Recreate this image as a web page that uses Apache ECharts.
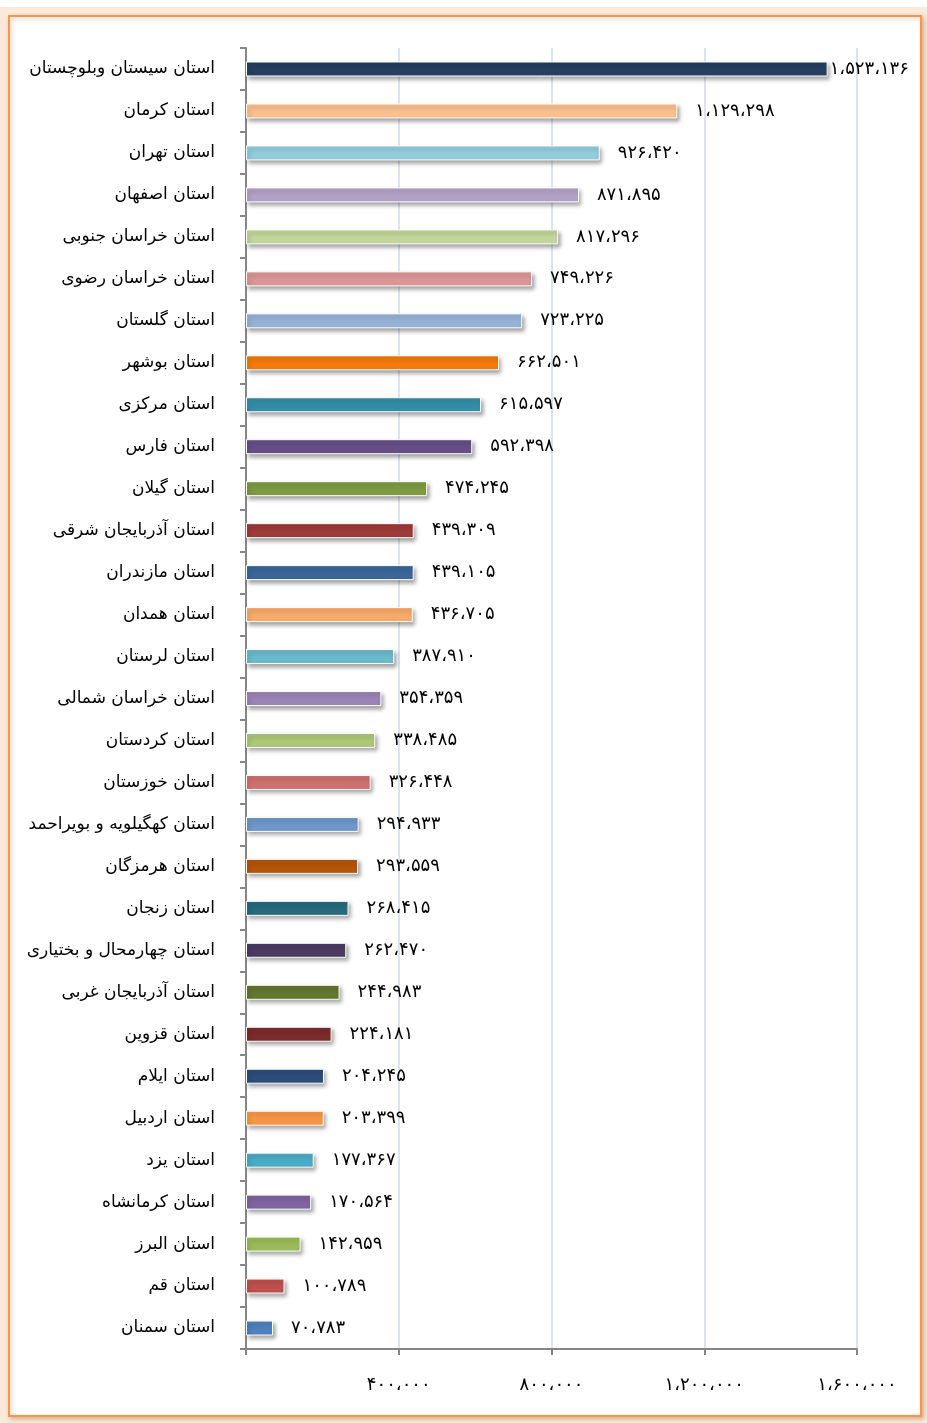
<!DOCTYPE html>
<html lang="fa">
<head>
<meta charset="utf-8">
<title>جمعیت استان‌ها</title>
<script src="https://cdn.jsdelivr.net/npm/echarts@6/dist/echarts.min.js"></script>
<style>
  html, body { margin: 0; padding: 0; background: #ffffff; }
  #chart { width: 927px; height: 1423px; }
</style>
</head>
<body>
<div id="chart"></div>
<script>
// Provinces, top to bottom
const provinces = [
  'استان سیستان وبلوچستان', 'استان کرمان', 'استان تهران', 'استان اصفهان',
  'استان خراسان جنوبی', 'استان خراسان رضوی', 'استان گلستان', 'استان بوشهر',
  'استان مرکزی', 'استان فارس', 'استان گیلان', 'استان آذربایجان شرقی',
  'استان مازندران', 'استان همدان', 'استان لرستان', 'استان خراسان شمالی',
  'استان کردستان', 'استان خوزستان', 'استان کهگیلویه و بویراحمد', 'استان هرمزگان',
  'استان زنجان', 'استان چهارمحال و بختیاری', 'استان آذربایجان غربی', 'استان قزوین',
  'استان ایلام', 'استان اردبیل', 'استان یزد', 'استان کرمانشاه',
  'استان البرز', 'استان قم', 'استان سمنان'
];

const values = [
  1523136, 1129298, 926420, 871895,
  817296, 749226, 723225, 662501,
  615597, 592398, 474245, 439309,
  439105, 436705, 387910, 354359,
  338485, 326448, 294933, 293559,
  268415, 262470, 244983, 224181,
  204245, 203399, 177367, 170564,
  142959, 100789, 70783
];

const barColors = [
  '#254061', '#FAC090', '#93CDDD', '#B3A2C7',
  '#C3D69B', '#D99694', '#95B3D7', '#F47A0C',
  '#358DA5', '#664F87', '#7D9B41', '#9E3B38',
  '#3A6699', '#F9AB6B', '#6BBACE', '#9B84B6',
  '#ACC777', '#CE716F', '#6F97CB', '#B55509',
  '#266A7C', '#4C3A63', '#62772F', '#7B2C2A',
  '#2C4D79', '#F79646', '#4BACC6', '#8064A2',
  '#9BBB59', '#C0504D', '#4F81BD'
];

const axisTicks = [0, 400000, 800000, 1200000, 1600000];

const faDigits = '۰۱۲۳۴۵۶۷۸۹';
function toPersian(n) {
  return Math.round(n).toLocaleString('en-US')
    .replace(/\d/g, d => faDigits[+d])
    .replace(/,/g, '،');
}

const textFont = '"DejaVu Sans", "Noto Sans", sans-serif';

const barData = values.map((v, i) => ({
  value: v,
  itemStyle: { color: barColors[i] },
  label: i === 0 ? { distance: 2 } : undefined
}));

const chart = echarts.init(document.getElementById('chart'), null, { renderer: 'canvas' });

chart.setOption({
  backgroundColor: '#FBE9DB',
  animation: false,
  graphic: [
    { type: 'rect', left: 0, top: 0, shape: { width: 927, height: 7 }, style: { fill: '#ffffff' }, z: -10 },
    {
      type: 'rect', left: 8, top: 15,
      shape: { width: 912, height: 1400 },
      style: {
        fill: '#ffffff', stroke: '#F79646', lineWidth: 2,
        shadowColor: 'rgba(150,90,40,0.35)', shadowBlur: 4, shadowOffsetX: 2, shadowOffsetY: 2
      },
      z: -5
    }
  ],
  grid: { left: 246, right: 70, top: 48, bottom: 74, containLabel: false },
  xAxis: {
    type: 'value',
    min: axisTicks[0],
    max: axisTicks[axisTicks.length - 1],
    interval: axisTicks[1] - axisTicks[0],
    axisLine: { show: true, lineStyle: { color: '#868686', width: 2 } },
    axisTick: { show: true, length: 6, lineStyle: { color: '#868686', width: 2 } },
    splitLine: { show: true, lineStyle: { color: '#CDDBEC', width: 1.5 } },
    axisLabel: {
      margin: 27,
      fontSize: 18,
      color: '#000000',
      fontFamily: textFont,
      formatter: v => (v === 0 ? '' : toPersian(v))
    }
  },
  yAxis: {
    type: 'category',
    inverse: true,
    data: provinces,
    axisLine: { show: true, lineStyle: { color: '#868686', width: 2 } },
    axisTick: { show: true, length: 6, lineStyle: { color: '#868686', width: 2 } },
    axisLabel: {
      margin: 31,
      fontSize: 17,
      color: '#000000',
      fontFamily: textFont
    }
  },
  series: [{
    type: 'bar',
    data: barData,
    barWidth: 15,
    itemStyle: {
      borderColor: '#ffffff',
      borderWidth: 1,
      shadowColor: 'rgba(0,0,0,0.35)',
      shadowBlur: 4,
      shadowOffsetX: 2,
      shadowOffsetY: 3
    },
    label: {
      show: true,
      position: 'right',
      distance: 18,
      fontSize: 18,
      color: '#000000',
      fontFamily: textFont,
      formatter: p => toPersian(p.value)
    }
  }]
});
</script>
</body>
</html>
